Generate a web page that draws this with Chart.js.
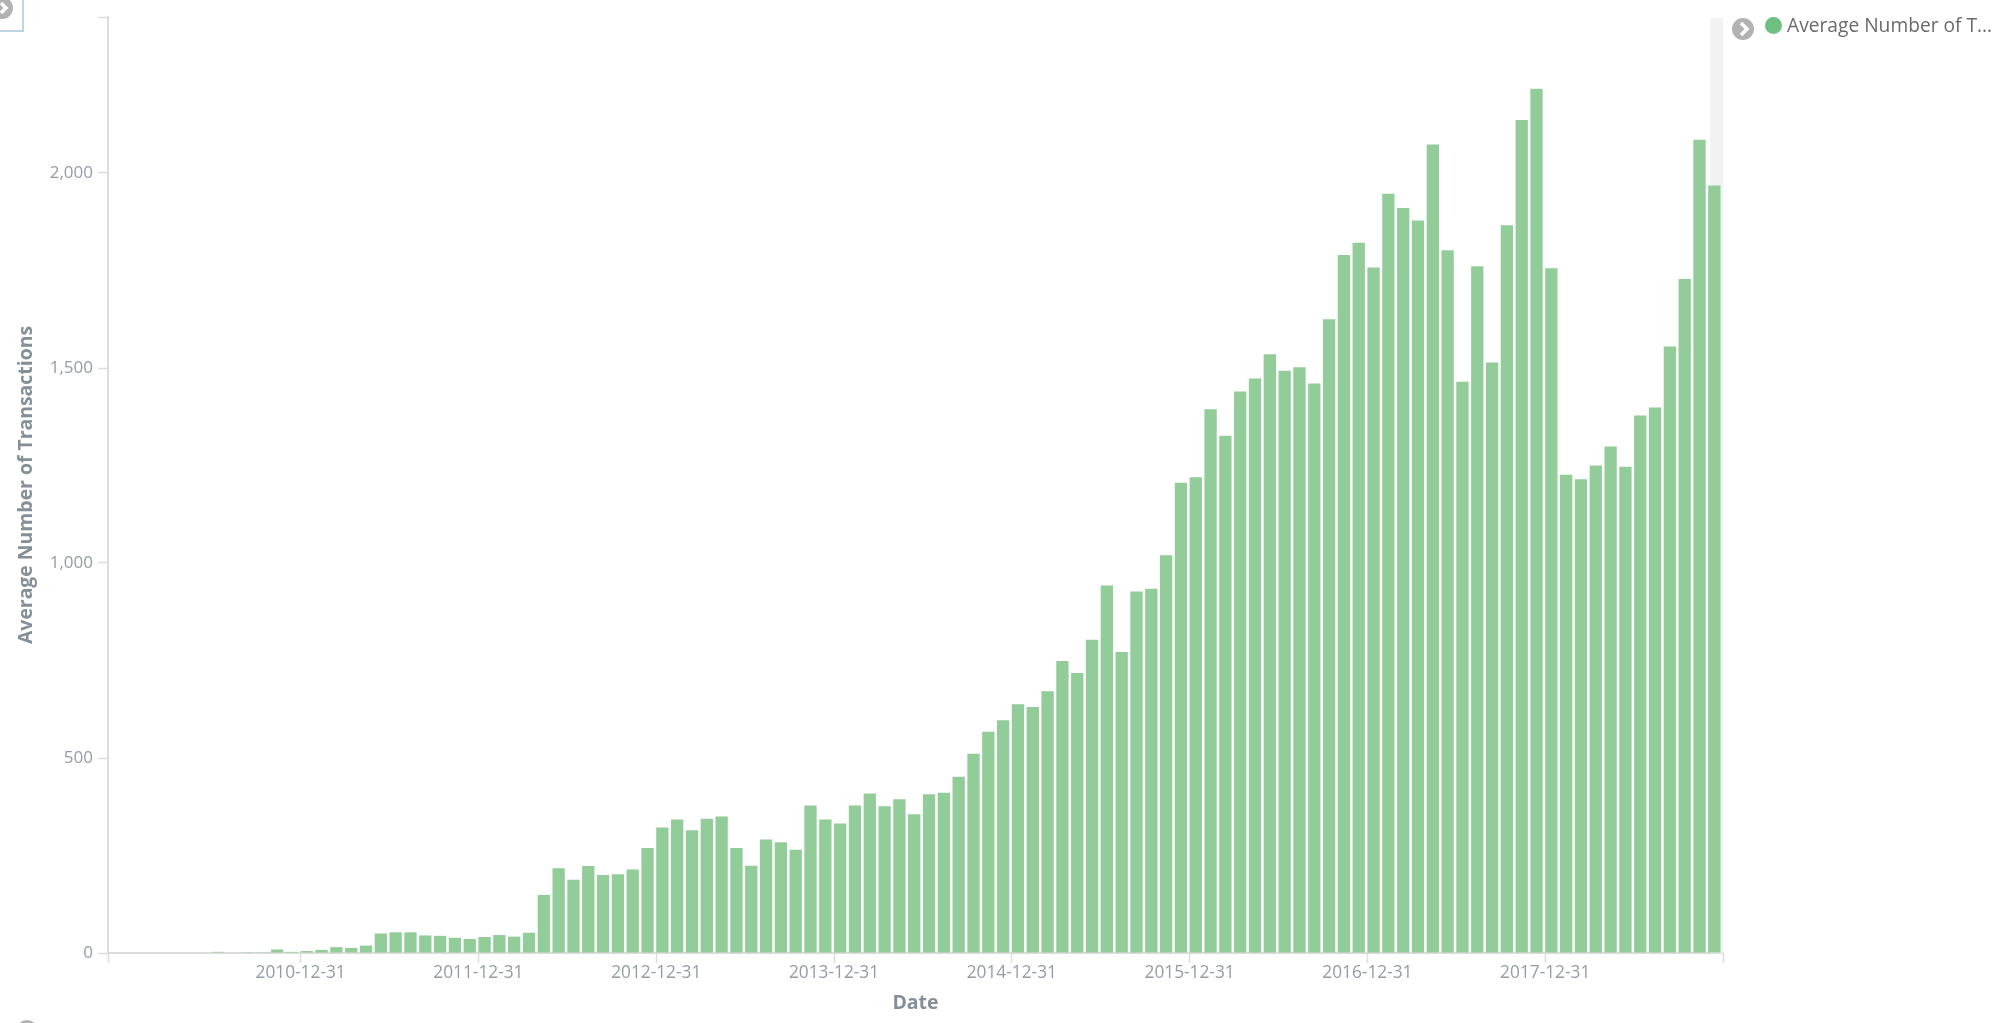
<!DOCTYPE html>
<html>
<head>
<meta charset="utf-8">
<title>Average Number of Transactions</title>
<script src="https://cdn.jsdelivr.net/npm/chart.js@4/dist/chart.umd.min.js"></script>
<style>
    html, body { margin: 0; padding: 0; background: #fff; overflow: hidden; }
    #wrap { position: relative; width: 1999px; height: 1023px; font-family: "Open Sans", sans-serif; }
    canvas { position: absolute; left: 0; top: 0; }
    .icon { position: absolute; left: 0; top: 0; }
    #panel-box { position: absolute; left: -2px; top: -2px; width: 22px; height: 30px; border: 2px solid #bcd6e6; }
    #legend-dot { position: absolute; left: 1765px; top: 17px; width: 17px; height: 17px; border-radius: 50%; background: #70bf82; }
    #legend-text { position: absolute; left: 1787px; top: 12px; font-size: 19.2px; line-height: 26px; color: #6a6a6a; white-space: nowrap; }
</style>
</head>
<body>
<div id="wrap">
    <canvas id="chart" width="1999" height="1023"></canvas>
    <div id="panel-box"></div>
    <svg class="icon" width="1999" height="1023">
        <g fill="#b2b2b2">
            <circle cx="2" cy="8" r="11"></circle>
            <circle cx="1743" cy="29" r="11"></circle>
            <circle cx="27" cy="1031" r="11"></circle>
        </g>
        <g fill="none" stroke="#fff" stroke-width="3.5">
            <path d="M1 3 L6 8 L1 13"></path>
            <path d="M1741 23 L1747 29 L1741 35"></path>
        </g>
    </svg>
    <div id="legend-dot"></div>
    <div id="legend-text">Average Number of T...</div>
</div>

<script>
const months = [
    '2009-11-30', '2009-12-31',
    '2010-01-31', '2010-02-28', '2010-03-31', '2010-04-30', '2010-05-31', '2010-06-30',
    '2010-07-31', '2010-08-31', '2010-09-30', '2010-10-31', '2010-11-30', '2010-12-31',
    '2011-01-31', '2011-02-28', '2011-03-31', '2011-04-30', '2011-05-31', '2011-06-30',
    '2011-07-31', '2011-08-31', '2011-09-30', '2011-10-31', '2011-11-30', '2011-12-31',
    '2012-01-31', '2012-02-29', '2012-03-31', '2012-04-30', '2012-05-31', '2012-06-30',
    '2012-07-31', '2012-08-31', '2012-09-30', '2012-10-31', '2012-11-30', '2012-12-31',
    '2013-01-31', '2013-02-28', '2013-03-31', '2013-04-30', '2013-05-31', '2013-06-30',
    '2013-07-31', '2013-08-31', '2013-09-30', '2013-10-31', '2013-11-30', '2013-12-31',
    '2014-01-31', '2014-02-28', '2014-03-31', '2014-04-30', '2014-05-31', '2014-06-30',
    '2014-07-31', '2014-08-31', '2014-09-30', '2014-10-31', '2014-11-30', '2014-12-31',
    '2015-01-31', '2015-02-28', '2015-03-31', '2015-04-30', '2015-05-31', '2015-06-30',
    '2015-07-31', '2015-08-31', '2015-09-30', '2015-10-31', '2015-11-30', '2015-12-31',
    '2016-01-31', '2016-02-29', '2016-03-31', '2016-04-30', '2016-05-31', '2016-06-30',
    '2016-07-31', '2016-08-31', '2016-09-30', '2016-10-31', '2016-11-30', '2016-12-31',
    '2017-01-31', '2017-02-28', '2017-03-31', '2017-04-30', '2017-05-31', '2017-06-30',
    '2017-07-31', '2017-08-31', '2017-09-30', '2017-10-31', '2017-11-30', '2017-12-31',
    '2018-01-31', '2018-02-28', '2018-03-31', '2018-04-30', '2018-05-31', '2018-06-30',
    '2018-07-31', '2018-08-31', '2018-09-30', '2018-10-31', '2018-11-30'
];

const avgTransactions = [
    0, 0,
    0, 0, 0, 0, 0, 3, 0, 2, 2, 9, 3, 5,
    8, 15, 13, 19, 50, 53, 53, 45, 44, 39, 36, 41,
    46, 42, 52, 149, 217, 188, 223, 200, 202, 214, 269, 322,
    342, 315, 344, 350, 269, 224, 291, 284, 265, 378, 342, 332,
    378, 409, 376, 394, 356, 407, 411, 452, 511, 567, 597, 638,
    631, 671, 749, 718, 803, 942, 772, 927, 934, 1020, 1206, 1220,
    1394, 1326, 1440, 1473, 1535, 1493, 1502, 1460, 1625, 1790, 1821, 1758,
    1947, 1910, 1878, 2073, 1802, 1465, 1761, 1514, 1866, 2136, 2216, 1756,
    1226, 1215, 1250, 1299, 1247, 1378, 1399, 1555, 1728, 2085, 1968
];

const xTickLabels = ['2010-12-31', '2011-12-31', '2012-12-31', '2013-12-31', '2014-12-31', '2015-12-31', '2016-12-31', '2017-12-31'];
const yTickValues = [0, 500, 1000, 1500, 2000];
const yMax = 2400;

const axisColor = '#dcdcdc';
const labelColor = '#959ca6';

// grey hover band over the last bucket
const hoverBand = {
    id: 'hoverBand',
    beforeDatasetsDraw(chart) {
        const x = chart.scales.x;
        const last = months.length - 1;
        const left = x.getPixelForValue(last + 0.14);
        const right = x.getPixelForValue(last + 1);
        const { top, bottom } = chart.chartArea;
        chart.ctx.save();
        chart.ctx.fillStyle = '#f2f2f2';
        chart.ctx.fillRect(left, top + 1, right - left, bottom - top - 1);
        chart.ctx.restore();
    }
};

new Chart(document.getElementById('chart').getContext('2d'), {
    type: 'bar',
    data: {
        datasets: [{
            label: 'Average Number of Transactions',
            // the bucket date sits on the left edge of its bar
            data: avgTransactions.map((v, i) => ({ x: i + 0.415, y: v })),
            backgroundColor: '#91cc99',
            borderWidth: 0,
            barPercentage: 0.83,
            categoryPercentage: 1
        }]
    },
    plugins: [hoverBand],
    options: {
        responsive: false,
        animation: false,
        layout: { padding: { top: 17, right: 276 } },
        plugins: { legend: { display: false }, tooltip: { enabled: false } },
        scales: {
            x: {
                type: 'linear',
                min: 0,
                max: months.length,
                offset: false,
                afterFit: scale => { scale.height = 70; },
                afterBuildTicks: scale => {
                    const at = xTickLabels.map(d => months.indexOf(d));
                    scale.ticks = [0, ...at, months.length].map(value => ({ value }));
                },
                grid: { offset: false, drawOnChartArea: false, color: axisColor, tickLength: 10, tickWidth: 1.5 },
                border: { color: axisColor, width: 2 },
                ticks: {
                    autoSkip: false,
                    maxRotation: 0,
                    padding: 0,
                    color: labelColor,
                    font: { family: 'Open Sans', size: 17.3 },
                    callback: value => (xTickLabels.includes(months[value]) ? months[value] : '')
                },
                title: {
                    display: true,
                    text: 'Date',
                    color: '#868e98',
                    font: { family: 'Open Sans', size: 19.5, weight: 'bold' },
                    padding: { top: 0, bottom: 8 }
                }
            },
            y: {
                min: 0,
                max: yMax,
                afterFit: scale => { scale.width = 108; },
                afterBuildTicks: scale => {
                    scale.ticks = [...yTickValues, yMax].map(value => ({ value }));
                },
                grid: { drawOnChartArea: false, color: axisColor, tickLength: 10, tickWidth: 1.5 },
                border: { color: axisColor, width: 2 },
                ticks: {
                    padding: 5,
                    color: labelColor,
                    font: { family: 'Open Sans', size: 17 },
                    callback: value => (yTickValues.includes(value) ? value.toLocaleString('en-US') : '')
                },
                title: {
                    display: true,
                    text: 'Average Number of Transactions',
                    color: '#868e98',
                    font: { family: 'Open Sans', size: 19.4, weight: 'bold' },
                    padding: { top: 15, bottom: 0 }
                }
            }
        }
    }
});
</script>
</body>
</html>
